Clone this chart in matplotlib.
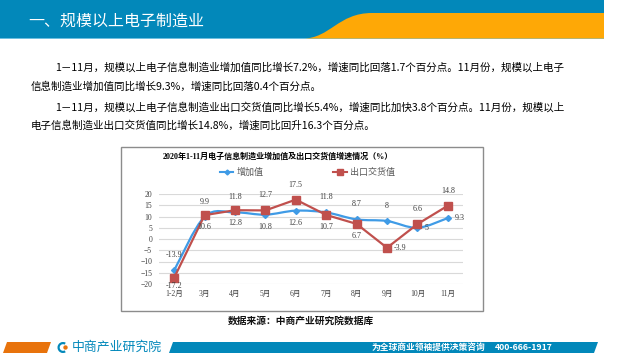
import matplotlib
matplotlib.use("Agg")
import matplotlib.pyplot as plt
from matplotlib.path import Path
from matplotlib.patches import PathPatch, Polygon, Rectangle, Circle, Wedge

plt.rcParams['font.family'] = ['Noto Sans CJK SC', 'DejaVu Sans']

# ---- data ----
months = ['1-2月', '3月', '4月', '5月', '6月', '7月', '8月', '9月', '10月', '11月']
added_value = [-13.9, 9.9, 11.8, 10.8, 12.6, 11.8, 8.7, 8, 5, 9.3]
export_value = [-17.2, 10.6, 12.8, 12.7, 17.5, 10.7, 6.7, -3.9, 6.6, 14.8]
series_names = ['增加值', '出口交货值']
yticks = [-20, -15, -10, -5, 0, 5, 10, 15, 20]

header = '一、规模以上电子制造业'
body_lines = [
    '1－11月，规模以上电子信息制造业增加值同比增长7.2%，增速同比回落1.7个百分点。11月份，规模以上电子',
    '信息制造业增加值同比增长9.3%，增速同比回落0.4个百分点。',
    '1－11月，规模以上电子信息制造业出口交货值同比增长5.4%，增速同比加快3.8个百分点。11月份，规模以上',
    '电子信息制造业出口交货值同比增长14.8%，增速同比回升16.3个百分点。',
]
chart_title = '2020年1-11月电子信息制造业增加值及出口交货值增速情况（%）'
source = '数据来源：中商产业研究院数据库'

# label placement per point: a=above, b=below, B=just below, r=right
blue_pos = ['a', 'a', 'a', 'b', 'b', 'a', 'a', 'a', 'r', 'r']
red_pos = ['B', 'b', 'b', 'a', 'a', 'b', 'b', 'r', 'a', 'a']

BLUE = '#0288ba'
ORANGE = '#fea806'
LINE_BLUE = '#3f9be6'
LINE_RED = '#c0504d'
serif = ['Liberation Serif', 'Noto Sans CJK SC']

fig = plt.figure(figsize=(6.4, 3.6), dpi=100)
fig.patch.set_facecolor('white')

# overlay in pixel coordinates
bg = fig.add_axes([0, 0, 1, 1])
bg.set_xlim(0, 640)
bg.set_ylim(360, 0)
bg.axis('off')

# header bar
bg.add_patch(Rectangle((0, 0), 604, 38.5, color=BLUE, lw=0))
bg.add_patch(Rectangle((0, 37.5), 604, 1.5, color='#6cbfe0', lw=0))
hv = [(303, 38.5), (330, 38.5), (338, 13), (372, 13), (604, 13), (604, 38.5), (303, 38.5)]
hc = [Path.MOVETO, Path.CURVE4, Path.CURVE4, Path.CURVE4, Path.LINETO, Path.LINETO, Path.CLOSEPOLY]
bg.add_patch(PathPatch(Path(hv, hc), color=ORANGE, lw=0))
bg.text(28, 21, header, color='white', fontsize=11.5, va='center', ha='left')

# body text
for txt, x, y in zip(body_lines, [55, 31, 55, 31], [67, 87, 107, 126]):
    bg.text(x, y, txt, fontsize=7.6, color='black', va='center', ha='left')

# chart frame
bg.add_patch(Rectangle((121, 147), 362, 164, fill=False, ec='#8c8c8c', lw=1))
bg.text(278, 157, chart_title, fontsize=5.8, fontweight='bold', ha='center', va='center',
        family=serif)

# legend
bg.plot([220, 233], [172, 172], color=LINE_BLUE, lw=1.5)
bg.plot([226.5], [172], marker='D', ms=2.5, color=LINE_BLUE)
bg.text(237, 172, series_names[0], fontsize=6.5, color='#595959', va='center', family=serif)
bg.plot([333, 347], [172, 172], color=LINE_RED, lw=1.5)
bg.plot([340], [172], marker='s', ms=4, color=LINE_RED)
bg.text(350, 172, series_names[1], fontsize=6.5, color='#595959', va='center', family=serif)

bg.text(301, 321, source, fontsize=7, color='#111111', ha='center', va='center',
        fontweight='bold')

# footer
bg.add_patch(Polygon([(3, 353), (7, 342), (51, 342), (47, 353)], color='#e8730c', lw=0))
bg.add_patch(Polygon([(169, 353), (173, 342), (598, 342), (594, 353)], color=BLUE, lw=0))
bg.add_patch(Wedge((63, 347.5), 5.5, 60, 300, width=2.2, color=BLUE, lw=0))
bg.add_patch(Circle((65.5, 347.5), 2.2, color='#e8730c', lw=0))
bg.text(72, 347.5, '中商产业研究院', fontsize=9.3, color=BLUE, va='center', ha='left')
bg.text(372, 347.5, '为全球商业领袖提供决策咨询', fontsize=6.3, color='white',
        fontweight='bold', va='center', ha='left')
bg.text(495, 347.5, '400-666-1917', fontsize=6.3, color='white', fontweight='bold',
        va='center', ha='left')

# chart axes: pixel box x 159..463, y 194..284
ax = fig.add_axes([159 / 640, (360 - 284) / 360, 304 / 640, 90 / 360])
ax.set_facecolor('none')
x = list(range(len(months)))
ax.set_xlim(-0.5, len(months) - 0.5)
ax.set_ylim(-20, 20)
ax.set_yticks(yticks)
ax.set_xticks(x)
ax.set_xticklabels(months)
for lab in ax.get_xticklabels() + ax.get_yticklabels():
    lab.set_family(serif)
    lab.set_fontsize(5.5)
    lab.set_color('#404040')
ax.tick_params(length=0)
ax.tick_params(axis='y', pad=5)
ax.tick_params(axis='x', pad=4)
ax.grid(axis='y', color='#d9d9d9', lw=0.8)
ax.set_axisbelow(True)
for s in ax.spines.values():
    s.set_visible(False)


def smooth_path(xs, ys):
    verts = [(xs[0], ys[0])]
    codes = [Path.MOVETO]
    n = len(xs)
    for i in range(n - 1):
        a = i - 1 if i > 0 else i
        b = i + 2 if i + 2 < n else i + 1
        c1 = (xs[i] + (xs[i + 1] - xs[a]) / 6, ys[i] + (ys[i + 1] - ys[a]) / 6)
        c2 = (xs[i + 1] - (xs[b] - xs[i]) / 6, ys[i + 1] - (ys[b] - ys[i]) / 6)
        verts += [c1, c2, (xs[i + 1], ys[i + 1])]
        codes += [Path.CURVE4] * 3
    return Path(verts, codes)


ax.add_patch(PathPatch(smooth_path(x, added_value), fill=False, ec=LINE_BLUE, lw=1.6,
                       zorder=3, clip_on=False))
ax.plot(x, added_value, ls='none', marker='D', ms=3, color=LINE_BLUE, zorder=4, clip_on=False)
ax.plot(x, export_value, color=LINE_RED, lw=1.6, marker='s', ms=5.5, zorder=5, clip_on=False)

offsets = {'a': (0, 8, 'center', 'bottom'), 'b': (0, -6, 'center', 'top'),
           'B': (0, -3, 'center', 'top'), 'r': (5, 0, 'left', 'center')}
for vals, pos in [(added_value, blue_pos), (export_value, red_pos)]:
    for xi, v, p in zip(x, vals, pos):
        dx, dy, ha, va = offsets[p]
        ax.annotate(f'{v:g}', (xi, v), xytext=(dx, dy), textcoords='offset points',
                    ha=ha, va=va, fontsize=5.8, color='#404040', family=serif, zorder=6)

fig.savefig('out.png', dpi=100)
